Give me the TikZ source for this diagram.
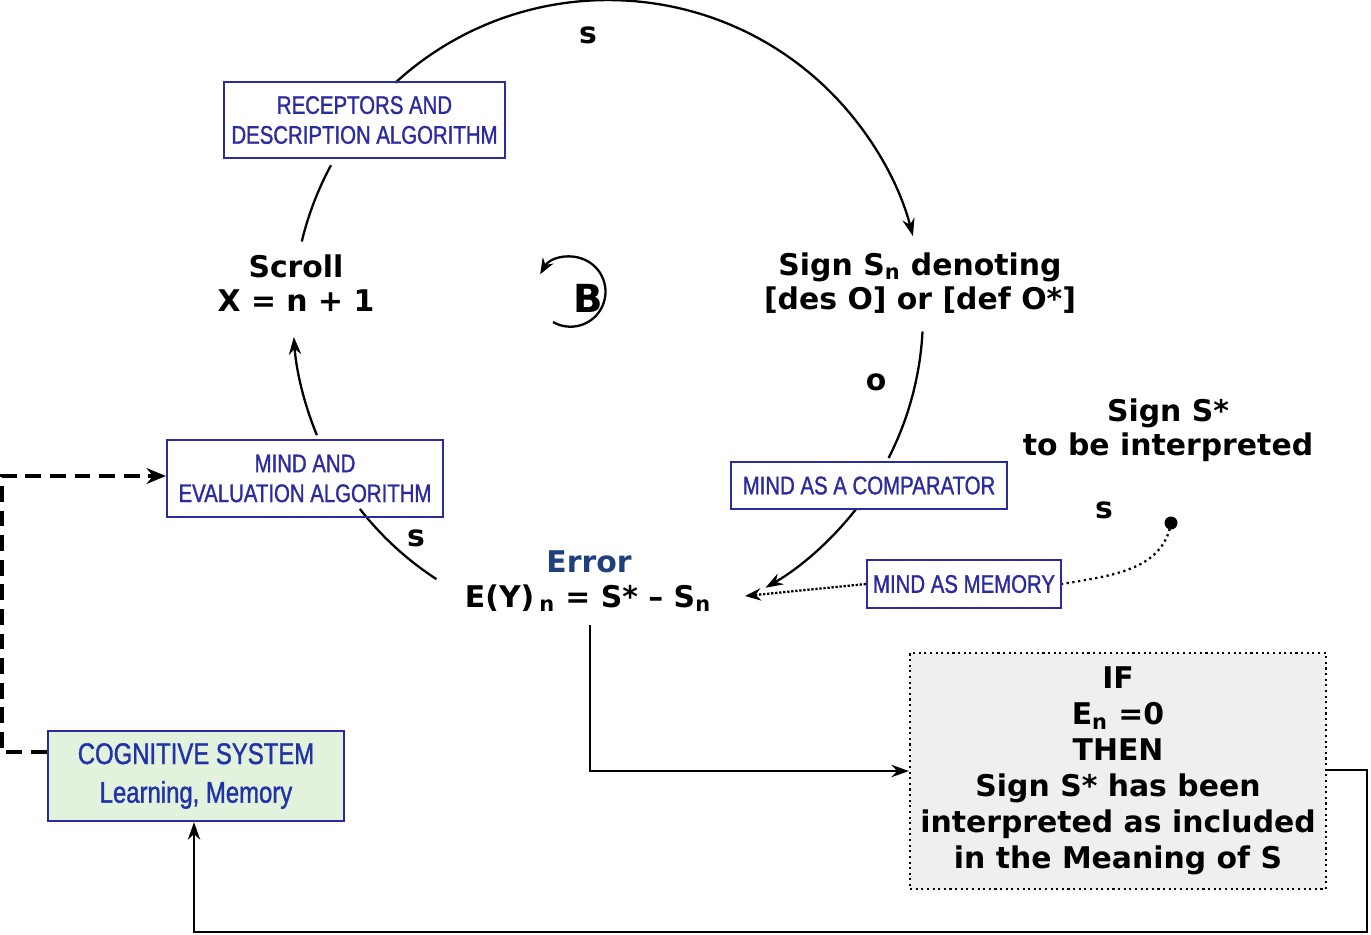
\documentclass[tikz,border=0pt]{standalone}
\usepackage{fontspec}
\setmainfont{DejaVu Sans}
\newfontfamily\boxf[FakeStretch=0.8,FakeBold=1.2]{Liberation Sans}
\usetikzlibrary{arrows.meta}
\definecolor{bx}{HTML}{2B2BA0}
\definecolor{errc}{HTML}{1F3F7F}
\begin{document}
\begin{tikzpicture}[x=0.02cm,y=0.02cm,
  lbl/.style={font=\bfseries\fontsize{17}{19.5}\selectfont,align=center,inner sep=0},
  bbox/.style={draw=bx,line width=1.3pt,text=bx,font=\boxf\fontsize{14.5}{17}\selectfont,align=center,inner sep=0},
  ln/.style={line width=1.3pt},
  arr/.style={ln,-{Stealth[length=10pt,width=7pt]}}]
\useasboundingbox (0,0) rectangle (1371,-934);
\coordinate (c) at (608,-315);
% circle arcs
\draw[arr] ([shift={(132.5:6.3cm)}]c) arc (132.5:14.5:6.3cm) coordinate (t1);
\draw[ln] ([shift={(151.6:6.3cm)}]c) arc (151.6:166.5:6.3cm);
\draw[ln] ([shift={(-3:6.3cm)}]c) arc (-3:-27:6.3cm);
\draw[arr] ([shift={(-38:6.3cm)}]c) arc (-38:-60:6.3cm);
\draw[ln] ([shift={(-123:6.3cm)}]c) arc (-123:-142:6.3cm);
\draw[arr] ([shift={(-157.6:6.3cm)}]c) arc (-157.6:-176:6.3cm);
% boxes
\node[bbox,minimum width=5.62cm,minimum height=1.52cm] (rec) at (364.5,-120) {RECEPTORS AND\\DESCRIPTION ALGORITHM};
\node[bbox,minimum width=5.52cm,minimum height=1.54cm] (eval) at (305,-478.5) {MIND AND\\EVALUATION ALGORITHM};
\node[bbox,minimum width=5.52cm,minimum height=0.94cm] (comp) at (869,-485.5) {MIND AS A COMPARATOR};
\node[bbox,minimum width=3.88cm,minimum height=0.96cm] (mem) at (964,-584) {MIND AS MEMORY};
\node[draw=bx,line width=1.3pt,fill={rgb,255:red,226;green,242;blue,220},text={rgb,255:red,34;green,51;blue,170},font=\boxf\fontsize{17}{20}\selectfont,align=center,minimum width=5.92cm,minimum height=1.8cm,inner sep=0] (cog) at (196,-776) {COGNITIVE SYSTEM\\[2pt]Learning, Memory};
\node[draw,dotted,line width=1.2pt,fill={rgb,255:red,239;green,239;blue,239},minimum width=8.32cm,minimum height=4.72cm,inner sep=0,font=\bfseries\fontsize{17}{20.5}\selectfont,align=center] (ifb) at (1118,-771) {IF\\E\textsubscript{n} =0\\THEN\\Sign S* has been\\interpreted as included\\in the Meaning of S};
% labels
\node[lbl] (s1) at (588,-35) {s};
\node[lbl] (scroll) at (296,-283) {Scroll\\X = n + 1};
\node[lbl,font=\bfseries\fontsize{22}{24}\selectfont] (B) at (588,-298) {B};
\draw[ln,-{Stealth[length=9pt,width=7pt]}] (553,-322) arc (-120:150:0.7cm);
\node[lbl] (sign) at (920,-283) {Sign S\textsubscript{n} denoting\\{[}des O{]} or {[}def O*{]}};
\node[lbl] (o) at (876,-382) {o};
\node[lbl] (sstar) at (1168,-430) {Sign S*\\to be interpreted};
\node[lbl] (s2) at (1104,-510) {s};
\node[lbl] (s3) at (416,-538) {s};
\node[lbl,text=errc] (err) at (589,-562) {Error};
\node[lbl] (eq) at (588,-598) {E(Y)\,\textsubscript{n} = S* -- S\textsubscript{n}};
\coordinate (dot) at (1171,-523);
\fill (dot) circle (6.5);
\draw[ln,dotted] (dot) to[out=-100,in=10] (mem.east);
\draw[ln,densely dotted,-{Stealth[length=9pt,width=7pt]}] (mem.west) -- (745,-596);
% connectors
\draw[arr] (590,-625) -- (590,-771) -- (ifb.west |- 0,-771);
\draw[arr] (ifb.east |- 0,-770) -- (1367,-770) -- (1367,-932) -- (194,-932) -- (cog.south -| 194,0);
\draw[line width=2.2pt,dash pattern=on 9pt off 5pt,-{Stealth[length=11pt,width=9pt]}] (cog.west |- 0,-752) -- (2,-752) -- (2,-476) -- (eval.west |- 0,-476);
\end{tikzpicture}
\end{document}
